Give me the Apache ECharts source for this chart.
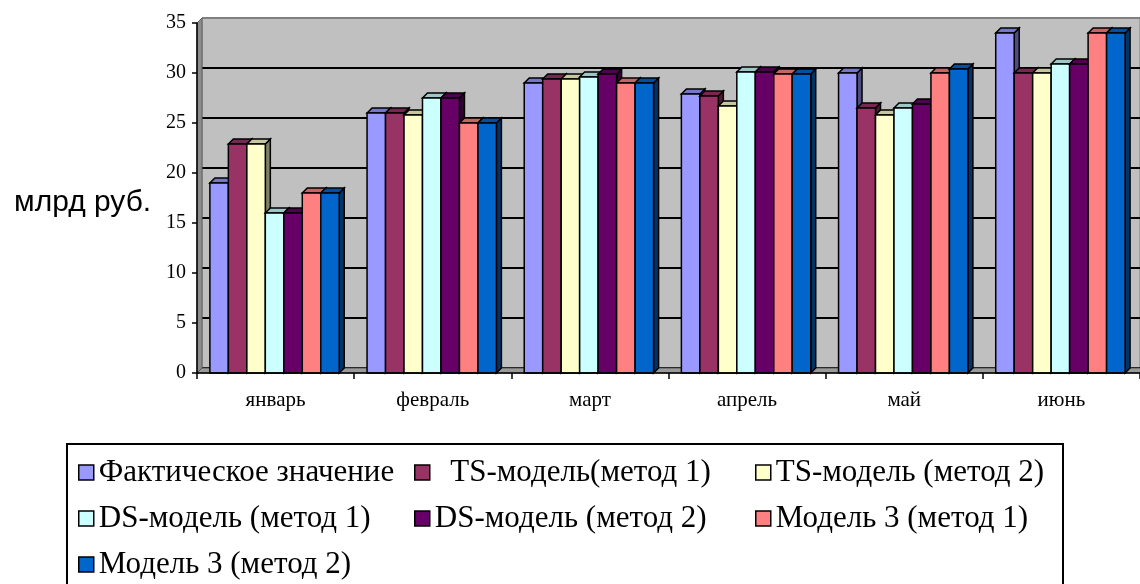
<!DOCTYPE html>
<html>
<head>
<meta charset="utf-8">
<script src="https://cdn.jsdelivr.net/npm/echarts@6/dist/echarts.min.js"></script>
<style>html,body{margin:0;padding:0;background:#fff;}#c{width:1140px;height:584px;}</style>
</head>
<body>
<div id="c"></div>
<script>
const categories = ['январь', 'февраль', 'март', 'апрель', 'май', 'июнь'];
const seriesNames = ['Фактическое значение', '  TS-модель(метод 1)', 'TS-модель (метод 2)',
  'DS-модель (метод 1)', 'DS-модель (метод 2)', 'Модель 3 (метод 1)', 'Модель 3 (метод 2)'];
const factual = [19, 26, 29, 27.9, 30, 34];
const tsMethod1 = [22.9, 26, 29.4, 27.7, 26.5, 30];
const tsMethod2 = [22.9, 25.8, 29.4, 26.7, 25.8, 30];
const dsMethod1 = [16, 27.5, 29.6, 30.1, 26.5, 30.9];
const dsMethod2 = [16, 27.5, 29.9, 30.1, 26.9, 30.9];
const model3Method1 = [18, 25, 29, 29.9, 30, 34];
const model3Method2 = [18, 25, 29, 29.9, 30.4, 34];
const yMin = 0, yMax = 35, yStep = 5;

const seriesValues = [factual, tsMethod1, tsMethod2, dsMethod1, dsMethod2, model3Method1, model3Method2];
const colors = ['#9999FF', '#993366', '#FFFFCC', '#CCFFFF', '#660066', '#FF8080', '#0066CC'];

function shade(hex, f) {
  const n = parseInt(hex.slice(1), 16);
  const r = Math.round(((n >> 16) & 255) * f), g = Math.round(((n >> 8) & 255) * f), b = Math.round((n & 255) * f);
  return 'rgb(' + r + ',' + g + ',' + b + ')';
}

const D = 5; // depth offset
const FRONT = {left: 197, top: 23, height: 350, width: 948};
const BACK = {left: FRONT.left + D, top: FRONT.top - D, height: 350, width: 960};

function makeRender(si) {
  const col = colors[si], topc = shade(col, 0.78), side = shade(col, 0.5);
  return function (params, api) {
    const c = api.value(0), v = api.value(1);
    const top = api.coord([c, v]);
    const base = api.coord([c, 0]);
    const W = api.size([1, 0])[0];
    const bw = W * 0.823 / 7;
    const x0 = top[0] - W * 0.418 + si * bw;
    const x1 = x0 + bw;
    const yT = top[1], yB = base[1];
    const st = {stroke: '#000', lineWidth: 1.5, lineJoin: 'miter'};
    return {
      type: 'group',
      children: [
        {type: 'polygon', shape: {points: [[x1, yT], [x1 + D, yT - D], [x1 + D, yB - D], [x1, yB]]},
          style: Object.assign({fill: side}, st)},
        {type: 'polygon', shape: {points: [[x0, yT], [x0 + D, yT - D], [x1 + D, yT - D], [x1, yT]]},
          style: Object.assign({fill: topc}, st)},
        {type: 'rect', shape: {x: x0, y: yT, width: bw, height: yB - yT},
          style: Object.assign({fill: col}, st)}
      ]
    };
  };
}

const series = seriesValues.map((vals, si) => ({
  name: seriesNames[si],
  type: 'custom',
  xAxisIndex: 1,
  yAxisIndex: 1,
  renderItem: makeRender(si),
  itemStyle: {color: colors[si], borderColor: '#000', borderWidth: 1.5},
  encode: {x: 0, y: 1},
  data: vals.map((v, i) => [i, v]),
  z: 2
}));

const splitColors = [];
for (let v = yMin; v <= yMax; v += yStep) splitColors.push(v === yMax ? '#808080' : '#000000');

// legend laid out in three columns (row-major order of the series)
const legendColumnsX = [78, 414, 755];
const legends = legendColumnsX.map((x, col) => ({
  data: seriesNames.filter((n, i) => i % 3 === col),
  left: x, top: 457,
  orient: 'vertical',
  padding: 0,
  borderWidth: 0,
  icon: 'rect', itemWidth: 15, itemHeight: 15, itemGap: 15,
  itemStyle: {borderColor: '#000', borderWidth: 1.5},
  textStyle: {fontFamily: 'Liberation Serif', fontSize: 31, color: '#000'}
}));

const chart = echarts.init(document.getElementById('c'), null, {renderer: 'canvas'});
chart.setOption({
  animation: false,
  backgroundColor: '#ffffff',
  title: {
    text: 'млрд руб.', left: 9, top: 183,
    textStyle: {fontFamily: 'Liberation Sans', fontWeight: 'normal', fontSize: 30, color: '#000'}
  },
  grid: [
    Object.assign({show: true, backgroundColor: '#C0C0C0', borderColor: '#808080', borderWidth: 1}, BACK),
    Object.assign({show: false}, FRONT)
  ],
  graphic: [
    {type: 'polygon', z: 1, silent: true,
      shape: {points: [[FRONT.left, FRONT.top], [BACK.left, BACK.top], [BACK.left, BACK.top + BACK.height], [FRONT.left, FRONT.top + FRONT.height]]},
      style: {fill: '#8c8c8c', stroke: '#606060', lineWidth: 1}},
    {type: 'polygon', z: 1, silent: true,
      shape: {points: [[FRONT.left, FRONT.top + FRONT.height], [BACK.left, BACK.top + BACK.height], [1160, BACK.top + BACK.height], [1160, FRONT.top + FRONT.height]]},
      style: {fill: '#9a9a9a', stroke: '#555', lineWidth: 1}},
    {type: 'rect', z: 0, silent: true,
      shape: {x: 67, y: 444, width: 996, height: 200},
      style: {fill: 'none', stroke: '#000', lineWidth: 2}}
  ],
  xAxis: [
    {gridIndex: 0, type: 'category', data: categories, show: false},
    {gridIndex: 1, type: 'category', data: categories, z: 3,
      axisLine: {show: true, lineStyle: {color: '#000', width: 1.5}},
      axisTick: {show: true, length: 6, lineStyle: {color: '#000', width: 1.5}},
      axisLabel: {fontFamily: 'Liberation Serif', fontSize: 21, color: '#000', margin: 17},
      splitLine: {show: false}}
  ],
  yAxis: [
    {gridIndex: 0, type: 'value', min: yMin, max: yMax, interval: yStep,
      axisLabel: {show: false}, axisLine: {show: false}, axisTick: {show: false},
      splitLine: {show: true, lineStyle: {color: splitColors, width: 2}}},
    {gridIndex: 1, type: 'value', min: yMin, max: yMax, interval: yStep, z: 3,
      axisLine: {show: true, lineStyle: {color: '#000', width: 1.5}},
      axisTick: {show: true, length: 5, lineStyle: {color: '#000', width: 1.5}},
      axisLabel: {fontFamily: 'Liberation Serif', fontSize: 20, color: '#000', margin: 11},
      splitLine: {show: false}}
  ],
  legend: legends,
  series: series
});
</script>
</body>
</html>
